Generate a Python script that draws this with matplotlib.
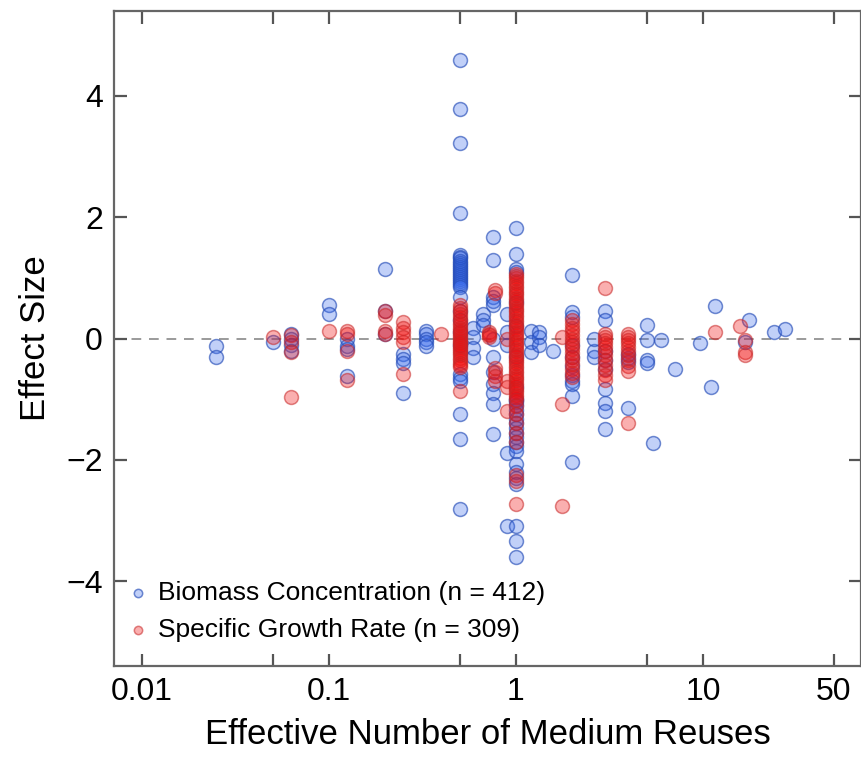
import matplotlib
matplotlib.use("Agg")
import matplotlib.pyplot as plt
from matplotlib.ticker import FixedLocator, FixedFormatter

plt.rcParams['font.family'] = ['Liberation Sans', 'DejaVu Sans']

# biomass concentration: x column -> effect sizes
bio_x = [0.025, 0.05, 0.0625, 0.1, 0.125, 0.2, 0.25, 0.33, 0.5, 0.59, 0.67,
         0.75, 0.9, 1.0, 1.2, 1.33, 1.58, 2.0, 2.6, 3.0, 4.0, 5.0, 5.4, 6.0,
         7.1, 9.6, 11.0, 11.6, 16.8, 17.6, 24.0, 27.5]
bio_y = [
    [-0.13, -0.31],
    [-0.05],
    [0.08, 0.0, -0.1, -0.2],
    [0.55, 0.40],
    [0.0, -0.12, -0.18, -0.62],
    [1.14, 0.45, 0.07],
    [-0.25, -0.33, -0.41, -0.9],
    [0.13, 0.07, 0.0, -0.05, -0.12],
    [4.6, 3.78, 3.22, 2.07, 1.38, 1.35, 1.32, 1.28, 1.25, 1.22, 1.18, 1.15,
     1.12, 1.08, 1.05, 1.02, 0.98, 0.95, 0.92, 0.88, 0.85, 0.68, 0.45, 0.3,
     0.1, -0.1, -0.58, -0.65, -0.7, -1.25, -1.65, -2.81],
    [0.18, 0.02, -0.15, -0.3],
    [0.4, 0.3, 0.22],
    [1.67, 1.29, 0.68, 0.62, 0.56, 0.0, -0.3, -0.55, -0.75, -0.9, -1.08, -1.57],
    [0.41, 0.1, -0.1, -1.88, -3.09],
    [1.82, 1.39, 1.15, 1.1, 0.6, 0.2, -0.3, -0.8, -1.0, -1.02, -1.05, -1.1,
     -1.18, -1.25, -1.32, -1.4, -1.48, -1.55, -1.62, -1.7, -1.78, -1.85,
     -2.07, -2.2, -2.3, -2.4, -3.09, -3.34, -3.6],
    [0.12, -0.05, -0.23],
    [0.1, 0.02, -0.1],
    [-0.2],
    [1.04, 0.43, 0.35, -0.1, -0.3, -0.45, -0.6, -0.7, -0.75, -0.95, -2.03],
    [-0.2, -0.3, 0.0],
    [0.46, 0.3, -0.2, -0.35, -0.5, -0.83, -1.06, -1.19, -1.49],
    [-0.25, -0.32, -0.38, -1.14],
    [0.23, -0.03, -0.36, -0.4],
    [-1.72],
    [-0.03],
    [-0.5],
    [-0.07],
    [-0.8],
    [0.53],
    [-0.05],
    [0.31],
    [0.1],
    [0.15],
]

# specific growth rate
growth_x = [0.05, 0.0625, 0.1, 0.125, 0.2, 0.25, 0.4, 0.5, 0.72, 0.77, 0.9,
            1.0, 1.76, 2.0, 3.0, 4.0, 11.6, 15.8, 16.8]
growth_y = [
    [0.02],
    [0.05, -0.05, -0.22, -0.97],
    [0.13],
    [0.13, 0.08, -0.2, -0.68],
    [0.45, 0.38, 0.12, 0.08],
    [0.27, 0.17, 0.1, 0.03, -0.05, -0.58],
    [0.07],
    [0.55, 0.5, 0.45, 0.4, 0.35, 0.3, 0.26, 0.22, 0.18, 0.14, 0.1, 0.07,
     0.04, 0.01, -0.02, -0.05, -0.08, -0.11, -0.14, -0.17, -0.2, -0.24,
     -0.28, -0.32, -0.36, -0.4, -0.44, -0.47, -0.86],
    [0.1, 0.05, 0.08, 0.02],
    [0.8, 0.75, -0.48, -0.55, -0.62, -0.7],
    [0.0, -0.7, -0.8, -1.19],
    [1.07, 1.03, 0.99, 0.95, 0.91, 0.87, 0.83, 0.79, 0.75, 0.71, 0.67, 0.63,
     0.59, 0.55, 0.51, 0.47, 0.43, 0.39, 0.35, 0.31, 0.27, 0.23, 0.19, 0.15,
     0.11, 0.07, 0.03, -0.01, -0.05, -0.09, -0.13, -0.17, -0.21, -0.25,
     -0.29, -0.33, -0.37, -0.41, -0.45, -0.49, -0.53, -0.57, -0.61, -0.65,
     -0.69, -0.73, -0.77, -0.81, -0.85, -0.89, -0.93, -0.97, -1.02, -1.12,
     -1.25, -1.4, -1.55, -1.7, -2.25, -2.35, -2.73],
    [0.02, -1.08, -2.76],
    [0.3, 0.24, 0.18, 0.12, 0.06, 0.0, -0.06, -0.12, -0.18, -0.24, -0.3,
     -0.36, -0.42, -0.5, -0.57, -0.64],
    [0.84, 0.08, 0.03, -0.02, -0.08, -0.14, -0.2, -0.28, -0.36, -0.44,
     -0.52, -0.6, -0.68],
    [0.08, 0.03, -0.02, -0.08, -0.14, -0.2, -0.28, -0.36, -0.45, -0.53, -1.39],
    [0.1],
    [0.2],
    [-0.03, -0.23, -0.28],
]

x_ticks = [0.01, 0.05, 0.1, 0.5, 1, 5, 10, 50]
x_tick_labels = ["0.01", "", "0.1", "", "1", "", "10", "50"]
y_ticks = [-4, -2, 0, 2, 4]


def flatten(xs, ys):
    px, py = [], []
    for x, vals in zip(xs, ys):
        px += [x] * len(vals)
        py += vals
    return px, py


bx, by = flatten(bio_x, bio_y)
gx, gy = flatten(growth_x, growth_y)

fig = plt.figure(figsize=(8.62, 7.59), dpi=100)
ax = fig.add_axes([0.1323, 0.1225, 0.8665, 0.863])

ax.axhline(0, color="#9a9a9a", lw=1.4, ls=(0, (5, 4)), zorder=1)

ax.scatter(bx, by, s=100, facecolor=(0.2, 0.4, 0.92, 0.3),
           edgecolor=(0.15, 0.3, 0.72, 0.65), lw=1.1, zorder=2,
           label="Biomass Concentration (n = 412)")
ax.scatter(gx, gy, s=100, facecolor=(0.95, 0.05, 0.05, 0.33),
           edgecolor=(0.78, 0.15, 0.15, 0.55), lw=1.1, zorder=3,
           label="Specific Growth Rate (n = 309)")

ax.set_xscale("log")
ax.set_xlim(0.0071, 70)
ax.set_ylim(-5.4, 5.4)
ax.xaxis.set_major_locator(FixedLocator(x_ticks))
ax.xaxis.set_major_formatter(FixedFormatter(x_tick_labels))
ax.xaxis.set_minor_locator(FixedLocator([]))
ax.set_yticks(y_ticks)
ax.set_yticklabels(["\u22124", "\u22122", "0", "2", "4"])

for sp in ax.spines.values():
    sp.set_color("#666666")
    sp.set_linewidth(1.6)
ax.tick_params(direction="in", length=9, width=1.6, color="#555555",
               labelsize=23, top=True, right=True, pad=8)

ax.set_xlabel("Effective Number of Medium Reuses", fontsize=25, labelpad=8)
ax.set_ylabel("Effect Size", fontsize=25, labelpad=10)

ax.legend(loc="lower left", frameon=False, fontsize=19, markerscale=0.6,
          handlelength=1.0, handletextpad=0.25, borderaxespad=0.0,
          labelspacing=0.5, bbox_to_anchor=(0.0, 0.02))

fig.savefig("out.png", dpi=100)
